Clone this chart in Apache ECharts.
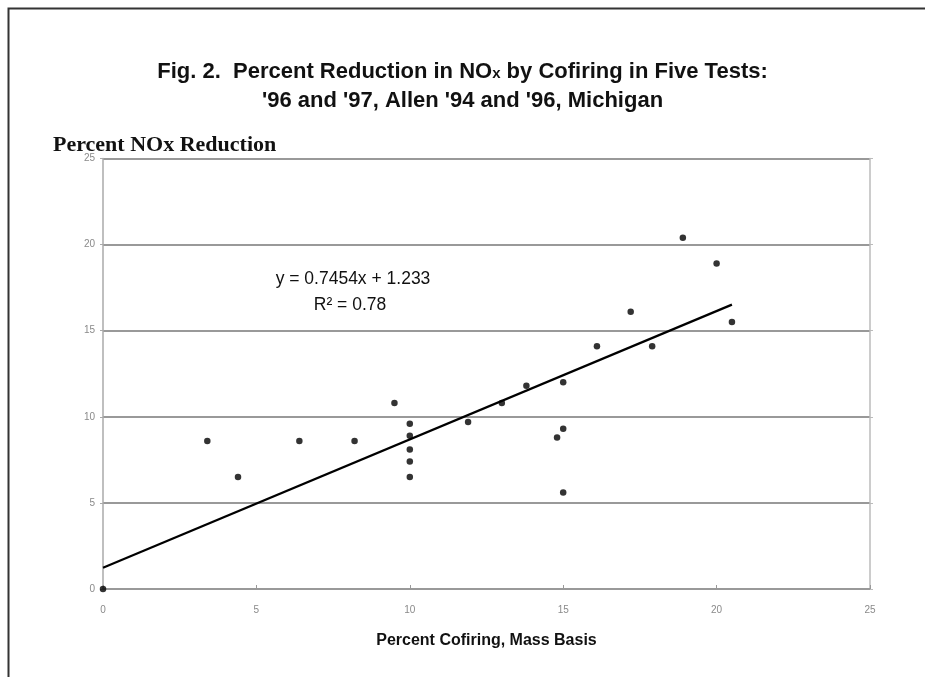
<!DOCTYPE html>
<html>
<head>
<meta charset="utf-8">
<script src="https://cdn.jsdelivr.net/npm/echarts@6/dist/echarts.min.js"></script>
<style>
html,body{margin:0;padding:0;background:#fff;}
#main{width:925px;height:677px;}
</style>
</head>
<body>
<div id="main"></div>
<script>
// Data
const cofiring = [0, 3.4, 4.4, 6.4, 8.2, 9.5, 10, 10, 10, 10, 10, 11.9, 13.0, 13.8, 15, 14.8, 15, 15, 16.1, 17.2, 17.9, 18.9, 20.0, 20.5];
const noxReduction = [0, 8.6, 6.5, 8.6, 8.6, 10.8, 9.6, 8.9, 8.1, 7.4, 6.5, 9.7, 10.8, 11.8, 12.0, 8.8, 9.3, 5.6, 14.1, 16.1, 14.1, 20.4, 18.9, 15.5];
const trendSlope = 0.7454;
const trendIntercept = 1.233;
const trendRange = [0, 20.5];
const axisTicks = [0, 5, 10, 15, 20, 25];
const equationText = 'y = 0.7454x + 1.233';
const r2Text = 'R² = 0.78';

const points = cofiring.map((x, i) => [x, noxReduction[i]]);
const trend = trendRange.map(x => [x, trendSlope * x + trendIntercept]);

const chart = echarts.init(document.getElementById('main'), null, {renderer: 'canvas'});
const axisLabel = {color: '#8a8a8a', fontSize: 10, fontFamily: 'Liberation Sans'};
chart.setOption({
  backgroundColor: '#fff',
  animation: false,
  title: [{
    text: 'Fig. 2.  Percent Reduction in NO{s|x} by Cofiring in Five Tests:\n\'96 and \'97, Allen \'94 and \'96, Michigan',
    left: 'center',
    top: 52,
    textStyle: {
      fontFamily: 'Liberation Sans', fontWeight: 'bold', fontSize: 22, color: '#111', lineHeight: 29,
      rich: {s: {fontFamily: 'Liberation Sans', fontWeight: 'bold', fontSize: 15, color: '#111', verticalAlign: 'middle', padding: [4, 0, 0, 0]}}
    }
  }],
  grid: {left: 103, right: 55, top: 158.5, bottom: 88, containLabel: false},
  xAxis: {
    type: 'value', min: axisTicks[0], max: axisTicks[axisTicks.length - 1], interval: 5,
    name: 'Percent Cofiring, Mass Basis', nameLocation: 'middle', nameGap: 44,
    nameTextStyle: {fontFamily: 'Liberation Sans', fontWeight: 'bold', fontSize: 16, color: '#111'},
    axisLine: {show: true, onZero: false, lineStyle: {color: '#999', width: 2}},
    axisTick: {show: true, inside: true, length: 4, lineStyle: {color: '#999'}},
    axisLabel: Object.assign({margin: 16}, axisLabel),
    splitLine: {show: false}
  },
  yAxis: [{
    type: 'value', min: axisTicks[0], max: axisTicks[axisTicks.length - 1], interval: 5,
    axisLine: {show: true, lineStyle: {color: '#aaa', width: 1.5}},
    axisTick: {show: true, inside: false, length: 3, lineStyle: {color: '#aaa'}},
    axisLabel: Object.assign({margin: 8}, axisLabel),
    splitLine: {show: true, lineStyle: {color: '#999', width: 2}}
  }, {
    type: 'value', position: 'right', min: axisTicks[0], max: axisTicks[axisTicks.length - 1], interval: 5,
    axisLine: {show: true, lineStyle: {color: '#bbb', width: 1.5}},
    axisTick: {show: true, inside: false, length: 3, lineStyle: {color: '#bbb'}},
    axisLabel: {show: false},
    splitLine: {show: false}
  }],
  graphic: [
    {type: 'rect', shape: {x: 8.5, y: 8.5, width: 930, height: 700}, style: {fill: 'none', stroke: '#333', lineWidth: 2}, silent: true},
    {type: 'text', left: 53, top: 134, style: {text: 'Percent NOx Reduction', font: 'bold 22px "Liberation Serif"', fill: '#111'}},
    {type: 'text', x: 353, y: 279, style: {text: equationText, font: '17.5px "Liberation Sans"', fill: '#111', textAlign: 'center', textVerticalAlign: 'middle'}},
    {type: 'text', x: 350, y: 305, style: {text: r2Text, font: '17.5px "Liberation Sans"', fill: '#111', textAlign: 'center', textVerticalAlign: 'middle'}}
  ],
  series: [
    {type: 'line', data: trend, symbol: 'none', lineStyle: {color: '#000', width: 2.2}, z: 3},
    {type: 'scatter', data: points, symbol: 'circle', symbolSize: 6.5, itemStyle: {color: '#000'}, z: 4}
  ]
});
</script>
</body>
</html>
